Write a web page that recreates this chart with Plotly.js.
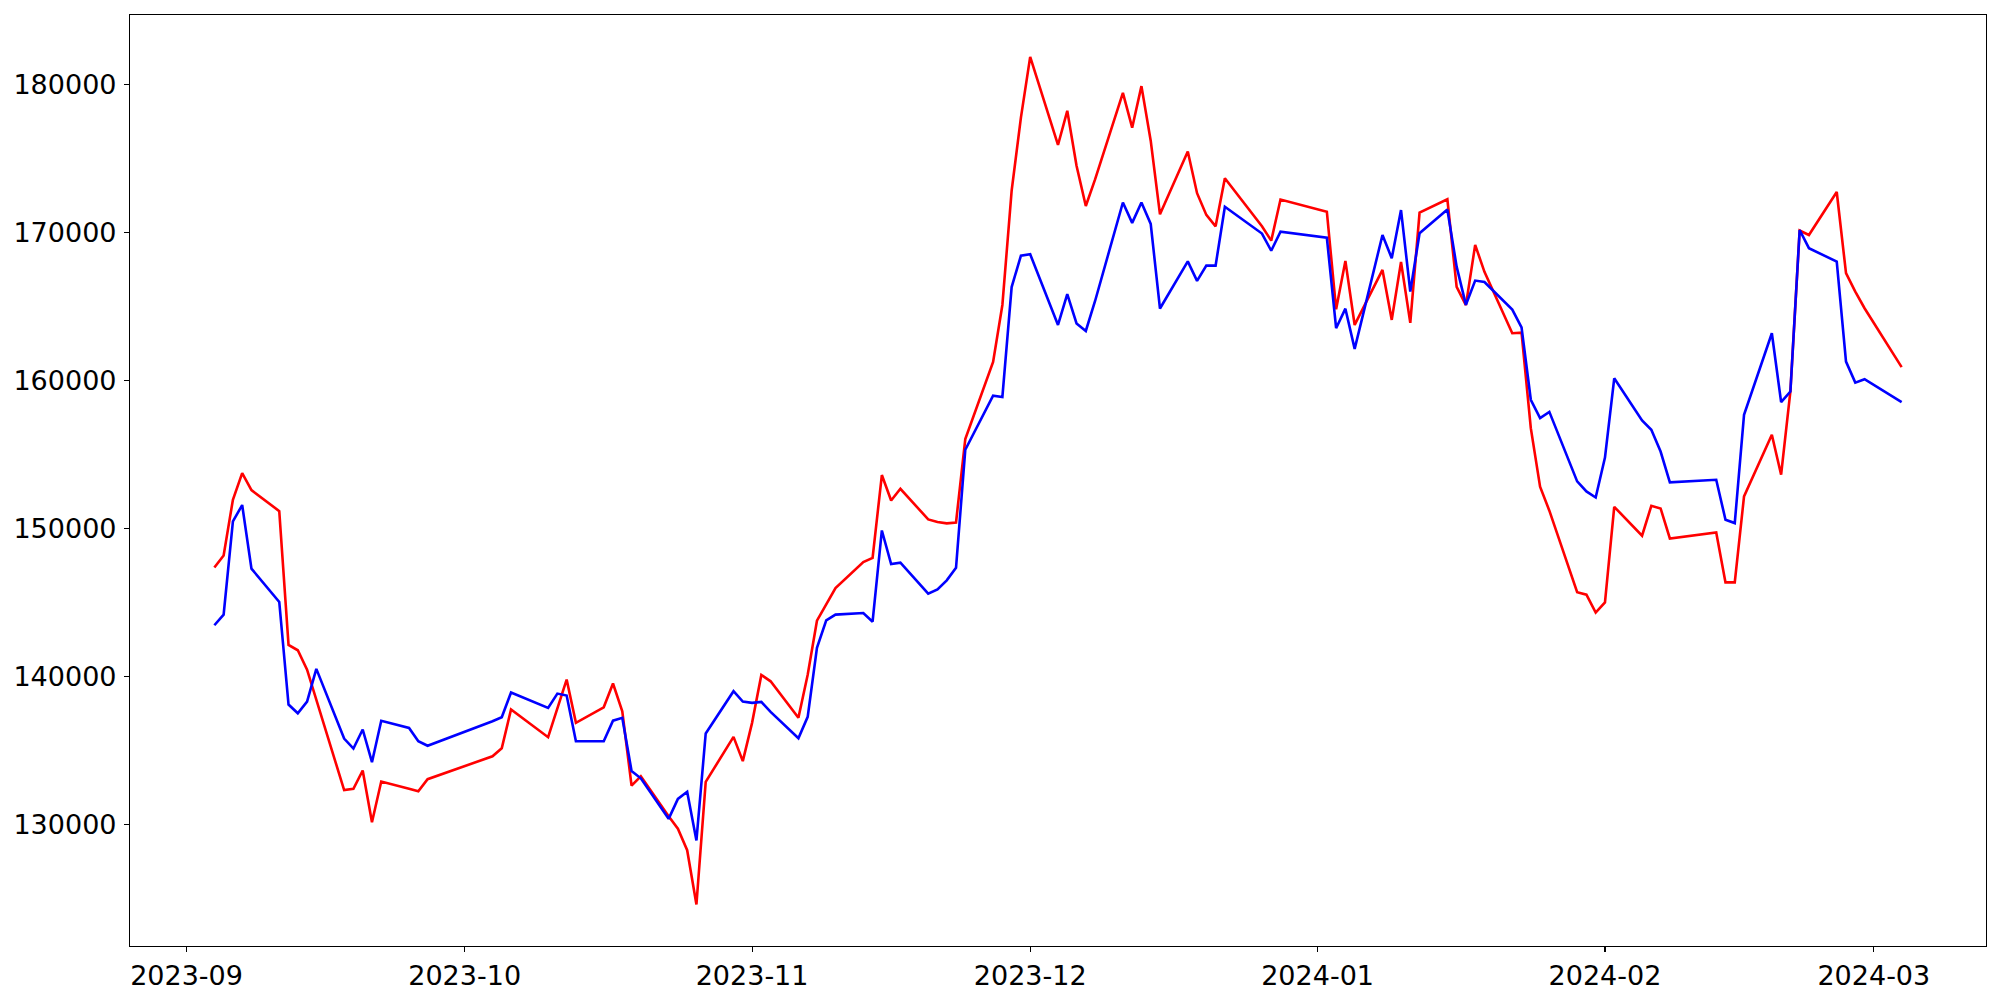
<!DOCTYPE html>
<html>
<head>
<meta charset="utf-8">
<script src="https://cdn.plot.ly/plotly-3.0.1.min.js"></script>
<style>
  html, body { margin: 0; padding: 0; background: #ffffff; }
  #chart { width: 2000px; height: 1000px; }
</style>
</head>
<body>
<div id="chart"></div>
<script>
// Trading dates (KRX calendar)
const dates = [
  "2023-09-04","2023-09-05","2023-09-06","2023-09-07","2023-09-08","2023-09-11","2023-09-12","2023-09-13","2023-09-14","2023-09-15",
  "2023-09-18","2023-09-19","2023-09-20","2023-09-21","2023-09-22","2023-09-25","2023-09-26","2023-09-27",
  "2023-10-04","2023-10-05","2023-10-06","2023-10-10","2023-10-11","2023-10-12","2023-10-13","2023-10-16","2023-10-17","2023-10-18",
  "2023-10-19","2023-10-20","2023-10-23","2023-10-24","2023-10-25","2023-10-26","2023-10-27","2023-10-30","2023-10-31",
  "2023-11-01","2023-11-02","2023-11-03","2023-11-06","2023-11-07","2023-11-08","2023-11-09","2023-11-10","2023-11-13","2023-11-14",
  "2023-11-15","2023-11-16","2023-11-17","2023-11-20","2023-11-21","2023-11-22","2023-11-23","2023-11-24","2023-11-27","2023-11-28",
  "2023-11-29","2023-11-30",
  "2023-12-01","2023-12-04","2023-12-05","2023-12-06","2023-12-07","2023-12-08","2023-12-11","2023-12-12","2023-12-13","2023-12-14",
  "2023-12-15","2023-12-18","2023-12-19","2023-12-20","2023-12-21","2023-12-22","2023-12-26","2023-12-27","2023-12-28",
  "2024-01-02","2024-01-03","2024-01-04","2024-01-05","2024-01-08","2024-01-09","2024-01-10","2024-01-11","2024-01-12","2024-01-15",
  "2024-01-16","2024-01-17","2024-01-18","2024-01-19","2024-01-22","2024-01-23","2024-01-24","2024-01-25","2024-01-26","2024-01-29",
  "2024-01-30","2024-01-31",
  "2024-02-01","2024-02-02","2024-02-05","2024-02-06","2024-02-07","2024-02-08","2024-02-13","2024-02-14","2024-02-15","2024-02-16",
  "2024-02-19","2024-02-20","2024-02-21","2024-02-22","2024-02-23","2024-02-26","2024-02-27","2024-02-28","2024-02-29",
  "2024-03-04"
];

const redValues = [
  147360,148170,151940,153740,152590,151170,142120,141760,140450,138380,
  132300,132390,133630,130130,132880,132390,132230,133040,
  134590,135130,137750,135880,137880,139780,136850,137900,139510,137630,
  132610,133240,130540,129690,128240,124570,132860,135900,134260,
  136850,140090,139660,137190,140110,143760,144840,145970,147730,148000,
  153610,151890,152680,150610,150430,150340,150400,156040,161260,165110,
  172840,177780,
  181890,175930,178240,174530,171800,173600,179450,177100,179910,176220,
  171240,175490,172670,171200,170430,173680,170430,169460,172240,
  171420,164820,168090,163760,167480,164100,168020,163900,171350,172260,
  166330,165100,169170,167350,163200,163240,156780,152820,151200,145690,
  145520,144310,
  145000,151460,149510,151530,151350,149320,149730,146350,146350,152160,
  156330,153630,159260,170140,169840,172750,167260,166010,164890,
  160910
];

const blueValues = [
  143450,144170,150470,151580,147280,145030,138090,137500,138290,140500,
  135790,135110,136400,134190,136990,136510,135610,135300,
  136960,137230,138900,137860,138830,138700,135610,135610,137000,137190,
  133600,133100,130360,131710,132190,128900,136130,138990,138290,
  138200,138270,137590,135810,137260,141920,143780,144170,144280,143690,
  149860,147590,147680,145590,145880,146490,147340,155320,158970,158890,
  166320,168450,
  168540,163760,165840,163860,163350,165380,172040,170660,172040,170590,
  164870,168060,166740,167770,167770,171750,169940,168780,170060,
  169660,163540,164860,162140,169840,168270,171530,166010,169960,171560,
  167700,165120,166760,166660,164800,163600,158700,157460,157880,153180,
  152500,152090,
  154790,160150,157300,156670,155200,153110,153290,150590,150360,157680,
  163200,158540,159260,170180,168950,168040,161280,159860,160090,
  158540
];

const traces = [
  { x: dates, y: redValues, type: 'scatter', mode: 'lines', name: 'red',
    line: { color: '#ff0000', width: 2.6 } },
  { x: dates, y: blueValues, type: 'scatter', mode: 'lines', name: 'blue',
    line: { color: '#0000ff', width: 2.6 } }
];

const tickFont = { family: 'DejaVu Sans, sans-serif', size: 27, color: '#000000' };

const layout = {
  width: 2000,
  height: 1000,
  margin: { l: 130, r: 14, t: 15, b: 54, pad: 0 },
  paper_bgcolor: '#ffffff',
  plot_bgcolor: '#ffffff',
  showlegend: false,
  xaxis: {
    type: 'date',
    range: ['2023-08-25 21:36', '2024-03-13 02:24'],
    tick0: '2023-09-01',
    dtick: 'M1',
    tickformat: '%Y-%m',
    ticks: 'outside',
    ticklen: 5,
    tickwidth: 1.1,
    tickcolor: '#000000',
    showline: true,
    mirror: true,
    linecolor: '#000000',
    linewidth: 1.1,
    showgrid: false,
    zeroline: false,
    tickfont: tickFont
  },
  yaxis: {
    range: [121760, 184720],
    tick0: 0,
    dtick: 10000,
    tickformat: 'd',
    ticks: 'outside',
    ticklen: 5,
    tickwidth: 1.1,
    tickcolor: '#000000',
    showline: true,
    mirror: true,
    linecolor: '#000000',
    linewidth: 1.1,
    showgrid: false,
    zeroline: false,
    ticklabelstandoff: 2,
    tickfont: tickFont
  }
};

Plotly.newPlot('chart', traces, layout, { staticPlot: true, displayModeBar: false });
</script>
</body>
</html>
